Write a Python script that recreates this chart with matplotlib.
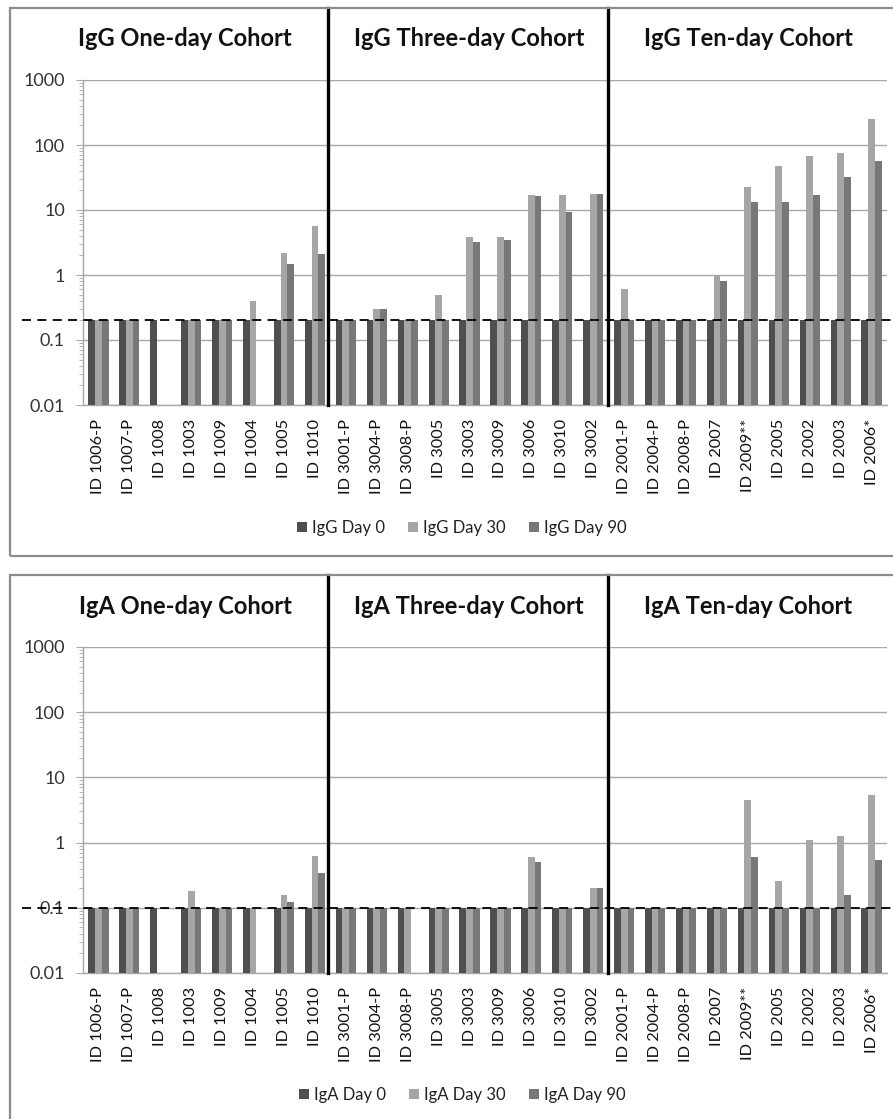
import numpy as np
import matplotlib
matplotlib.use("Agg")
import matplotlib.pyplot as plt
from matplotlib.patches import Rectangle
from matplotlib.lines import Line2D
import matplotlib.transforms as mtransforms
from matplotlib.ticker import LogLocator, FixedLocator, NullFormatter

plt.rcParams['font.family'] = ['Lato', 'DejaVu Sans']

# ---------------- data ----------------
categories = ["ID 1006-P", "ID 1007-P", "ID 1008", "ID 1003", "ID 1009", "ID 1004", "ID 1005", "ID 1010",
              "ID 3001-P", "ID 3004-P", "ID 3008-P", "ID 3005", "ID 3003", "ID 3009", "ID 3006", "ID 3010", "ID 3002",
              "ID 2001-P", "ID 2004-P", "ID 2008-P", "ID 2007", "ID 2009**", "ID 2005", "ID 2002", "ID 2003", "ID 2006*"]
nan = np.nan

igg_day0 = [0.2, 0.2, 0.2, 0.2, 0.2, 0.2, 0.2, 0.2,
            0.2, 0.2, 0.2, 0.2, 0.2, 0.2, 0.2, 0.2, 0.2,
            0.2, 0.2, 0.2, 0.2, 0.2, 0.2, 0.2, 0.2, 0.2]
igg_day30 = [0.2, 0.2, nan, 0.2, 0.2, 0.4, 2.2, 5.6,
             0.2, 0.3, 0.2, 0.5, 3.8, 3.8, 17, 17, 17.5,
             0.6, 0.2, 0.2, 0.97, 22.5, 48, 68, 75, 250]
igg_day90 = [0.2, 0.2, nan, 0.2, 0.2, nan, 1.5, 2.1,
             0.2, 0.3, 0.2, 0.2, 3.2, 3.5, 16.5, 9.4, 17.5,
             0.2, 0.2, 0.2, 0.8, 13.5, 13.5, 17, 32.5, 56]

iga_day0 = [0.1, 0.1, 0.1, 0.1, 0.1, 0.1, 0.1, 0.1,
            0.1, 0.1, 0.1, 0.1, 0.1, 0.1, 0.1, 0.1, 0.1,
            0.1, 0.1, 0.1, 0.1, 0.1, 0.1, 0.1, 0.1, 0.1]
iga_day30 = [0.1, 0.1, nan, 0.18, 0.1, 0.1, 0.158, 0.63,
             0.1, 0.1, 0.1, 0.1, 0.1, 0.1, 0.6, 0.1, 0.198,
             0.1, 0.1, 0.1, 0.1, 4.5, 0.26, 1.1, 1.28, 5.3]
iga_day90 = [0.1, 0.1, nan, 0.1, 0.1, nan, 0.122, 0.34,
             0.1, 0.1, nan, 0.1, 0.1, 0.1, 0.51, 0.1, 0.198,
             0.1, 0.1, 0.1, 0.1, 0.6, 0.1, 0.1, 0.158, 0.54]

igg_threshold = 0.2
iga_threshold = 0.1

igg_titles = ["IgG One-day Cohort", "IgG Three-day Cohort", "IgG Ten-day Cohort"]
iga_titles = ["IgA One-day Cohort", "IgA Three-day Cohort", "IgA Ten-day Cohort"]
igg_legend = ["IgG Day 0", "IgG Day 30", "IgG Day 90"]
iga_legend = ["IgA Day 0", "IgA Day 30", "IgA Day 90"]

ytick_values = [0.01, 0.1, 1, 10, 100, 1000]
ytick_labels = ["0.01", "0.1", "1", "10", "100", "1000"]

# ---------------- style ----------------
W, H = 893, 1119
DPI = 100
colors = ["#4f4f4f", "#a6a6a6", "#787878"]
grid_color = "#a8a8a8"
text_color = "#333333"
bar_w = 0.217
divider_x = [7.43, 16.47]
title_px_x = [185, 469, 748]

fig = plt.figure(figsize=(W / DPI, H / DPI), dpi=DPI)


def px_rect(left, top, right, bottom):
    return [left / W, 1 - bottom / H, (right - left) / W, (bottom - top) / H]


def draw_panel(ax_rect, frame_top, frame_bottom, d0, d30, d90, thr, titles, legend_labels, title_y, legend_y):
    # panel frame
    fig.patches.append(Rectangle((10 / W, 1 - frame_bottom / H), (905 - 10) / W, (frame_bottom - frame_top) / H,
                                 transform=fig.transFigure, fill=False, edgecolor="#8c8c8c", linewidth=1.6,
                                 clip_on=False))
    ax = fig.add_axes(px_rect(*ax_rect))
    ax.set_yscale("log")
    ax.set_ylim(0.01, 1000)
    n = len(categories)
    x = np.arange(n)
    ax.set_xlim(-0.5, n - 0.5)
    series = [d0, d30, d90]
    handles = []
    for k, (vals, c) in enumerate(zip(series, colors)):
        v = np.array(vals, dtype=float)
        h = ax.bar(x + (k - 1) * bar_w, v - 0.01, bottom=0.01, width=bar_w, color=c, linewidth=0, zorder=3)
        handles.append(h)
    # grid
    ax.yaxis.set_major_locator(FixedLocator(ytick_values))
    ax.set_yticklabels(ytick_labels)
    ax.yaxis.set_minor_locator(LogLocator(base=10, subs=np.arange(2, 10)))
    ax.yaxis.set_minor_formatter(NullFormatter())
    ax.grid(axis="y", which="major", color=grid_color, linewidth=1.0, zorder=0)
    ax.set_axisbelow(True)
    for s in ["top", "right"]:
        ax.spines[s].set_visible(False)
    for s in ["left", "bottom"]:
        ax.spines[s].set_color(grid_color)
        ax.spines[s].set_linewidth(1.0)
    ax.tick_params(axis="y", which="major", length=5, color=grid_color, labelsize=13, labelcolor=text_color, pad=8)
    ax.tick_params(axis="y", which="minor", length=3, color=grid_color)
    ax.set_xticks(x)
    ax.set_xticklabels(categories, rotation=90, fontsize=11.8, color="#111111")
    ax.tick_params(axis="x", length=0, pad=10)
    # dividers
    ax_h = ax_rect[3] - ax_rect[1]
    top_frac = (ax_rect[3] - frame_top) / ax_h
    trans_x = mtransforms.blended_transform_factory(ax.transData, ax.transAxes)
    for dx in divider_x:
        ax.add_line(Line2D([dx, dx], [0, top_frac], transform=trans_x, color="black", linewidth=2.4,
                           clip_on=False, zorder=6))
    # threshold dashed line
    trans_y = mtransforms.blended_transform_factory(ax.transAxes, ax.transData)
    ax_w = ax_rect[2] - ax_rect[0]
    x0 = (22 - ax_rect[0]) / ax_w
    x1 = (900 - ax_rect[0]) / ax_w
    ax.add_line(Line2D([x0, x1], [thr, thr], transform=trans_y, color="black", linewidth=1.3,
                       linestyle=(0, (5, 3.5)), clip_on=False, zorder=7))
    # titles
    for t, tx in zip(titles, title_px_x):
        fig.text(tx / W, 1 - title_y / H, t, ha="center", va="center", fontsize=17, fontweight="bold",
                 color="#111111")
    # legend
    fig.legend(handles, legend_labels, loc="center", bbox_to_anchor=(462 / W, 1 - legend_y / H), ncol=3,
               frameon=False, fontsize=12, handlelength=0.6, handleheight=0.6, handletextpad=0.3,
               columnspacing=1.4, labelcolor="#222222")
    return ax


draw_panel((83, 80, 887, 405), 8, 556, igg_day0, igg_day30, igg_day90, igg_threshold, igg_titles, igg_legend,
           38, 528)
draw_panel((83, 647, 887, 973), 575, 1135, iga_day0, iga_day30, iga_day90, iga_threshold, iga_titles, iga_legend,
           607, 1095)

fig.savefig("out.png", dpi=DPI)
